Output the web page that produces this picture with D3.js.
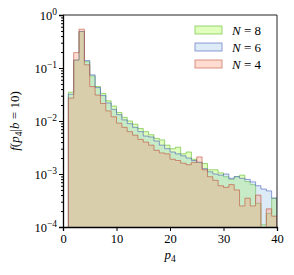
<!DOCTYPE html>
<html>
<head>
<meta charset="utf-8">
<script src="https://cdn.jsdelivr.net/npm/d3@7"></script>
<style>
  body { margin: 0; background: #fff; }
  text { font-family: "Liberation Serif", "DejaVu Serif", serif; }
</style>
</head>
<body>
<div id="vis"></div>
<script>
// dimens and margins
const margin = { top: 15, right: 17, bottom: 48, left: 63 };
const width = 294 - margin.left - margin.right;
const height = 275 - margin.top - margin.bottom;

// bin left edges (width 1), from p4 = 1 to 39
const binEdges = d3.range(1, 40);

// densities, one per bin
const n8 = [0.035, 0.141, 0.49, 0.132, 0.0708, 0.0447, 0.0331, 0.024, 0.0191, 0.0145,
    0.0117, 0.01, 0.0087, 0.0072, 0.0063, 0.0055, 0.0047, 0.0044, 0.0035, 0.003,
    0.0032, 0.0024, 0.0026, 0.0019, 0.00166, 0.00158, 0.0012, 0.0012, 0.00105, 0.00089,
    0.00079, 0.00089, 0.00095, 0.00072, 0.00063, 0.00028, 0.00011, 0.00018, 0.00035];
const n6 = [0.032, 0.141, 0.49, 0.138, 0.0741, 0.0427, 0.0302, 0.0219, 0.0166, 0.0132,
    0.0105, 0.0089, 0.0076, 0.0063, 0.0052, 0.005, 0.0042, 0.0035, 0.003, 0.0026,
    0.0024, 0.0022, 0.002, 0.0018, 0.00166, 0.00126, 0.0011, 0.001, 0.00095, 0.001,
    0.00083, 0.00089, 0.00083, 0.00079, 0.00071, 0.0006, 0.00052, 0.00048, 0.00035];
const n4 = [0.027, 0.195, 0.54, 0.115, 0.0447, 0.0309, 0.0214, 0.0155, 0.012, 0.0091,
    0.0076, 0.0063, 0.0054, 0.0045, 0.004, 0.0035, 0.0028, 0.0025, 0.0024, 0.0019,
    0.0018, 0.0016, 0.0015, 0.00166, 0.0021, 0.0012, 0.00089, 0.00076, 0.0006, 0.00056,
    0.00063, 0.0005, 0.00025, 0.00035, 0.00025, 0.0004, 0.00006, 0.00022, 0.00016];

const series = [
    { label: '8', values: n8, fill: '#9bff26', stroke: '#5cb82a' },
    { label: '6', values: n6, fill: '#8abcde', stroke: '#4a5fc0' },
    { label: '4', values: n4, fill: '#ff8a69', stroke: '#c0503a' }
];

const xTicks = [0, 10, 20, 30, 40];
const yTicks = [1e-4, 1e-3, 1e-2, 1e-1, 1];

const svg = d3.select('#vis')
    .append('svg')
    .attr('width', width + margin.left + margin.right)
    .attr('height', height + margin.top + margin.bottom)
    .append('g')
    .attr('transform', `translate(${margin.left},${margin.top})`);

const x = d3.scaleLinear().domain([0, 40]).range([0, width]);
const y = d3.scaleLog().domain([1e-4, 1]).range([height, 0]);

svg.append('clipPath').attr('id', 'clip')
    .append('rect').attr('width', width).attr('height', height);

// stepfilled histograms
const area = d3.area()
    .curve(d3.curveStepAfter)
    .x(d => x(d.p))
    .y0(height + 2)
    .y1(d => y(d.v));

const plot = svg.append('g').attr('clip-path', 'url(#clip)');
series.forEach(s => {
    const pts = binEdges.map((p, i) => ({ p, v: s.values[i] }));
    pts.push({ p: 40, v: s.values[s.values.length - 1] });
    plot.append('path')
        .datum(pts)
        .attr('d', area)
        .attr('fill', s.fill)
        .attr('fill-opacity', 0.3)
        .attr('stroke', s.stroke)
        .attr('stroke-opacity', 0.6)
        .attr('stroke-width', 1);
});

// axes
svg.append('g')
    .attr('transform', `translate(0,${height})`)
    .call(d3.axisBottom(x).tickValues(xTicks).tickSize(4).tickPadding(3));

const yAxis = svg.append('g')
    .call(d3.axisLeft(y).tickValues(yTicks).tickSize(4).tickPadding(2).tickFormat(''));

yAxis.selectAll('.tick text').each(function (d) {
    const e = Math.round(Math.log10(d));
    const t = d3.select(this);
    t.text('10');
    t.append('tspan').attr('dy', '-0.5em').attr('font-size', '9.5px')
        .text(e === 0 ? '0' : '\u2212' + (-e));
});

// minor ticks on the log axis
const minor = [];
[-4, -3, -2, -1].forEach(k => d3.range(2, 10).forEach(m => minor.push(m * Math.pow(10, k))));
svg.append('g')
    .call(d3.axisLeft(y).tickValues(minor).tickSize(2).tickFormat(''))
    .select('.domain').remove();

svg.selectAll('.tick text').attr('font-size', '12.5px').attr('fill', '#000');
svg.selectAll('.tick line').attr('stroke', '#000');
svg.selectAll('.domain').attr('stroke', '#000').attr('stroke-width', 1.3);

// top and right spines
svg.append('path')
    .attr('d', `M0,0H${width}V${height}`)
    .attr('fill', 'none')
    .attr('stroke', '#222')
    .attr('stroke-width', 1);

// axis labels
const xl = svg.append('text')
    .attr('x', width / 2).attr('y', height + 32)
    .attr('text-anchor', 'middle').attr('font-size', '13px');
xl.append('tspan').attr('font-style', 'italic').text('p');
xl.append('tspan').attr('dy', '3').attr('font-size', '9.5px').text('4');

const yl = svg.append('text')
    .attr('transform', `translate(${-44},${height / 2}) rotate(-90)`)
    .attr('text-anchor', 'middle').attr('font-size', '13px');
yl.append('tspan').attr('font-style', 'italic').text('f');
yl.append('tspan').text('(');
yl.append('tspan').attr('font-style', 'italic').text('p');
yl.append('tspan').attr('dy', '3').attr('font-size', '9.5px').text('4');
yl.append('tspan').attr('dy', '-3').text('|');
yl.append('tspan').attr('font-style', 'italic').text('b');
yl.append('tspan').text(' = 10)');

// legend
const legend = svg.append('g').attr('transform', `translate(${132},${11})`);
series.forEach((s, i) => {
    const g = legend.append('g').attr('transform', `translate(0,${i * 17})`);
    g.append('rect')
        .attr('width', 27).attr('height', 8)
        .attr('fill', s.fill).attr('fill-opacity', 0.3)
        .attr('stroke', s.stroke).attr('stroke-opacity', 0.6);
    const t = g.append('text').attr('x', 37).attr('y', 8.5).attr('font-size', '13px');
    t.append('tspan').attr('font-style', 'italic').text('N');
    t.append('tspan').text(' = ' + s.label);
});
</script>
</body>
</html>
